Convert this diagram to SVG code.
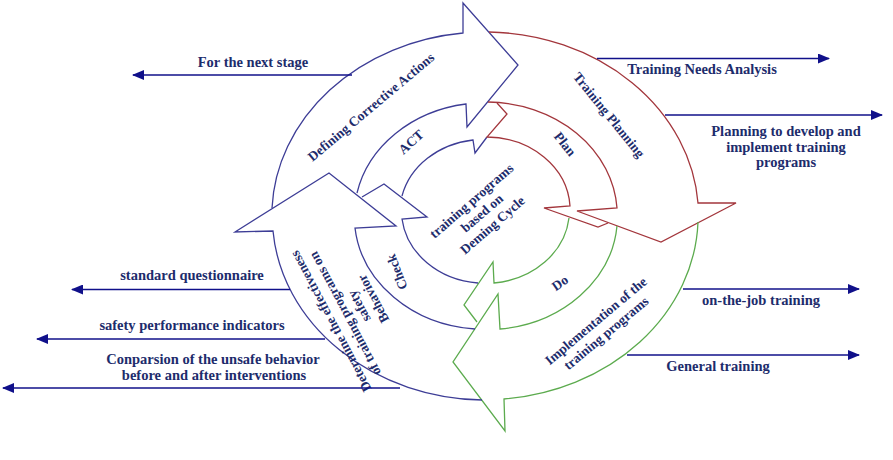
<svg xmlns="http://www.w3.org/2000/svg" width="893" height="460" viewBox="0 0 893 460">
  <defs>
    <marker id="tip" viewBox="0 0 12 10" refX="11" refY="5" markerWidth="12" markerHeight="10" markerUnits="userSpaceOnUse" orient="auto">
      <path d="M0,0 L12,5 L0,10 z" fill="#10108a"/>
    </marker>
    <style>
      .ring { fill: none; stroke-width: 1.3; stroke-linejoin: miter; }
      .blue { stroke: #3d3d96; }
      .red { stroke: #a3363c; }
      .green { stroke: #5cab4e; }
      .lbl { font-family: "Liberation Serif", "Times New Roman", serif; font-weight: bold; fill: #1d2c6c; }
      .side { font-size: 14.5px; text-anchor: middle; }
      .rot { font-size: 13.5px; text-anchor: middle; }
      .link { stroke: #10108a; stroke-width: 1.6; fill: none; marker-end: url(#tip); }
    </style>
  </defs>
  <rect width="893" height="460" fill="#ffffff"/>

  <!-- outer ring -->
  <g id="defining-corrective-actions">
    <path class="ring blue" d="M272,208 A214,184 0 0 1 463,33 L463,3 L518,65 L467,127 L466,104 A131,113 0 0 0 357,193"/>
    <text class="lbl rot" transform="translate(371,107) rotate(-40)" y="4.5">Defining Corrective Actions</text>
  </g>
  <g id="training-planning">
    <path class="ring red" d="M489,32 A214,184 0 0 1 698,203 L736,203 L661,242 L577,211 L617,208 A131,113 0 0 0 488,102"/>
    <text class="lbl rot" transform="translate(609,115) rotate(51)" y="4.5">Training Planning</text>
  </g>
  <g id="implementation">
    <path class="ring green" d="M698,222 A214,184 0 0 1 504,399 L505,431 L453,362 L498,294 L500,329 A131,113 0 0 0 617,226"/>
    <g class="lbl rot" transform="translate(601,327) rotate(-40)">
      <text y="-3.5">Implementation of the</text>
      <text y="12.5">training programs</text>
    </g>
  </g>
  <g id="determine-effectiveness">
    <path class="ring blue" d="M482,400 A214,184 0 0 1 273,231 L235,232 L329,173 L396,226 L355,228 A131,113 0 0 0 475,329"/>
    <g class="lbl rot" transform="translate(352,310) rotate(-118)">
      <text y="-19.5">Determine the effectiveness</text>
      <text y="-3.5">of training programs on</text>
      <text y="12.5">safety</text>
      <text y="28.5">Behavior</text>
    </g>
  </g>

  <!-- middle ring -->
  <g id="act">
    <path class="ring blue" d="M402,196 A84,73 0 0 1 473,140 L475,153 L487,137"/>
    <text class="lbl rot" transform="translate(411,142) rotate(-42)" y="4.5">ACT</text>
  </g>
  <g id="plan">
    <path class="ring red" d="M497,103 L507,114 L487,137 A84,73 0 0 1 570,206 L544,208 L598,227 L608,223"/>
    <text class="lbl rot" transform="translate(565,144) rotate(52)" y="4.5">Plan</text>
  </g>
  <g id="do">
    <path class="ring green" d="M569,218 A84,73 0 0 1 494,283 L493,262 L464,305 L477,322"/>
    <text class="lbl rot" transform="translate(560,283) rotate(-35)" y="4.5">Do</text>
  </g>
  <g id="check">
    <path class="ring blue" d="M478,283 A84,73 0 0 1 402,219 L427,217 L384,184 L362,197"/>
    <text class="lbl rot" transform="translate(397,272) rotate(-111)" y="4.5">Check</text>
  </g>

  <!-- centre -->
  <g id="deming-cycle" class="lbl rot" transform="translate(482,213) rotate(-41)">
    <text y="-11.5">training programs</text>
    <text y="4.5">based on</text>
    <text y="20.5">Deming Cycle</text>
  </g>

  <!-- outputs -->
  <g id="connectors">
    <path class="link" d="M352,75 H133"/>
    <path class="link" d="M290,289.5 H72"/>
    <path class="link" d="M325,339 H37"/>
    <path class="link" d="M400,388 H3"/>
    <path class="link" d="M597,58.5 H829"/>
    <path class="link" d="M665,115 H882"/>
    <path class="link" d="M683,289 H859"/>
    <path class="link" d="M627,355 H859"/>
  </g>

  <g id="output-labels" class="lbl side">
    <text x="253" y="67">For the next stage</text>
    <text x="192" y="280">standard questionnaire</text>
    <text x="192" y="330">safety performance indicators</text>
    <text x="213" y="364">Conparsion of the unsafe behavior</text>
    <text x="214" y="380">before and after interventions</text>
    <text x="702" y="74">Training Needs Analysis</text>
    <text x="786" y="136">Planning to develop and</text>
    <text x="786" y="152">implement training</text>
    <text x="786" y="167">programs</text>
    <text x="761" y="305">on-the-job training</text>
    <text x="718" y="371">General training</text>
  </g>
</svg>
